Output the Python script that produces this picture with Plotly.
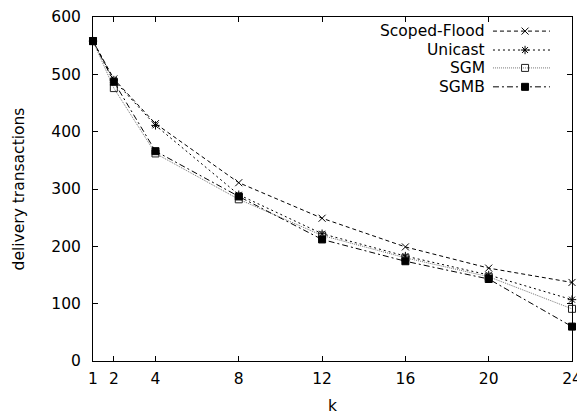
import plotly.graph_objects as go

k = [1, 2, 4, 8, 12, 16, 20, 24]
scoped_flood = [558, 492, 414, 311, 249, 199, 162, 137]
unicast = [558, 490, 411, 290, 222, 183, 150, 107]
sgm = [558, 476, 362, 282, 219, 180, 147, 91]
sgmb = [558, 487, 366, 287, 212, 174, 143, 60]

names = ["Scoped-Flood", "Unicast", "SGM", "SGMB"]
series = [scoped_flood, unicast, sgm, sgmb]
x_ticks = [1, 2, 4, 8, 12, 16, 20, 24]
y_ticks = [0, 100, 200, 300, 400, 500, 600]

styles = [
    dict(color="#000", dash="4px,3px", symbol="x-thin-open", msize=7, mcolor="#000"),
    dict(color="#000", dash="2px,3px", symbol="asterisk-open", msize=7, mcolor="#000"),
    dict(color="#777", dash="1px,1px", symbol="square-open", msize=7, mcolor="#222"),
    dict(color="#000", dash="6px,3px,2px,3px", symbol="square", msize=7, mcolor="#000"),
]

FONT = "DejaVu Sans, Liberation Sans, Arial, sans-serif"
FS = 15.5
fig = go.Figure()

for name, ys, st in zip(names, series, styles):
    fig.add_trace(go.Scatter(
        x=k, y=ys, mode="lines+markers", name=name, showlegend=False, cliponaxis=False,
        line=dict(color=st["color"], width=1, dash=st["dash"]),
        marker=dict(symbol=st["symbol"], size=st["msize"], color=st["mcolor"],
                    line=dict(color=st["mcolor"], width=1)),
    ))

# gnuplot-style key: text on the left, sample on the right (hidden overlay axes)
row_y = [0.959, 0.904, 0.852, 0.797]
for name, st, ry in zip(names, styles, row_y):
    fig.add_trace(go.Scatter(
        x=[0.835, 0.954], y=[ry, ry], mode="lines", xaxis="x2", yaxis="y2",
        showlegend=False, hoverinfo="skip",
        line=dict(color=st["color"], width=1, dash=st["dash"]),
    ))
    fig.add_trace(go.Scatter(
        x=[0.902], y=[ry], mode="markers", xaxis="x2", yaxis="y2",
        showlegend=False, hoverinfo="skip",
        marker=dict(symbol=st["symbol"], size=st["msize"], color=st["mcolor"],
                    line=dict(color=st["mcolor"], width=1)),
    ))
    fig.add_annotation(
        x=0.8225, y=ry, xref="x2", yref="y2", text=name, showarrow=False,
        xanchor="right", yanchor="middle", font=dict(family=FONT, size=FS, color="#000"),
    )

axis_common = dict(
    showline=True, linecolor="#000", linewidth=1, mirror="ticks",
    ticks="inside", ticklen=5, tickcolor="#000", tickwidth=1,
    showgrid=False, zeroline=False, automargin=False,
    tickfont=dict(family=FONT, size=FS, color="#000"),
    title_font=dict(family=FONT, size=FS, color="#000"),
)

# page body has an 8px margin, so the figure is sized/offset to land the
# plot area where the reference has it
fig.update_layout(
    width=577, height=408,
    margin=dict(l=85, r=13, t=9, b=55, autoexpand=False),
    paper_bgcolor="white", plot_bgcolor="white",
    xaxis=dict(range=[1, 24], tickvals=x_ticks, ticktext=[str(v) for v in x_ticks],
               title=dict(text="k", standoff=13), ticklabelstandoff=3, **axis_common),
    yaxis=dict(range=[0, 600], tickvals=y_ticks, title=dict(text="delivery transactions", standoff=22),
               ticklabelstandoff=8, **axis_common),
    xaxis2=dict(range=[0, 1], overlaying="x", visible=False, fixedrange=True),
    yaxis2=dict(range=[0, 1], overlaying="y", visible=False, fixedrange=True),
    showlegend=False,
)

fig.write_html("out.html")
